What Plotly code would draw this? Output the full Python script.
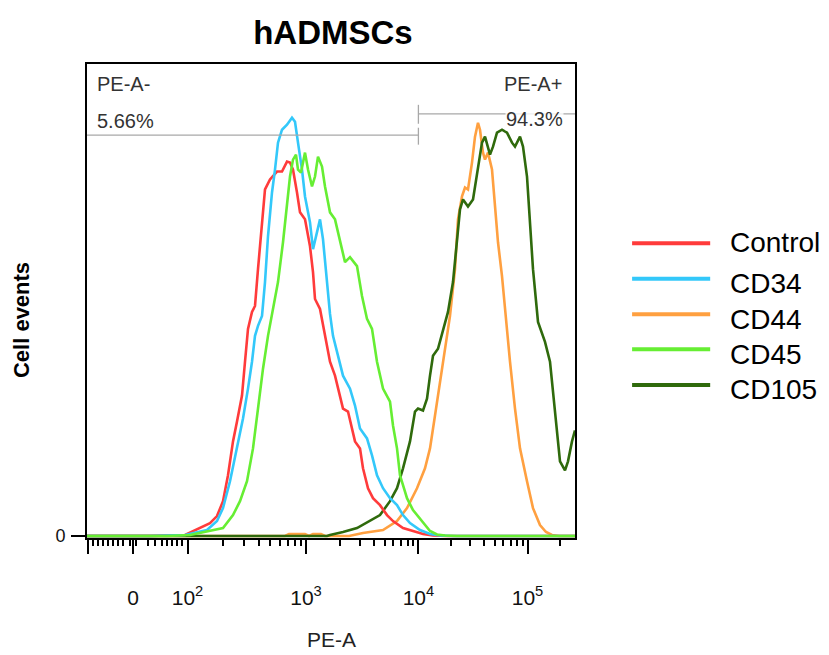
import numpy as np
import plotly.graph_objects as go

# PE-A display channel (0-488) and cell events
ctrl_x = [0, 63, 98, 113, 123, 130, 136, 141, 146, 150, 155, 158, 161, 165, 168, 171, 175, 178, 183, 190, 195,
          200, 203, 206, 210, 213, 218, 223, 226, 228, 233, 236, 240, 243, 248, 253, 256, 261, 265, 268, 273,
          276, 281, 286, 293, 300, 306, 316, 326, 336, 346, 360, 488]
ctrl_y = [0, 0, 1, 8, 13, 20, 35, 61, 95, 115, 141, 175, 208, 225, 231, 268, 311, 348, 358, 366, 366,
          376, 375, 368, 345, 325, 318, 291, 265, 238, 228, 211, 191, 175, 161, 141, 128, 125, 108, 95, 88,
          68, 48, 38, 31, 21, 15, 8, 5, 2, 0.5, 0, 0]

cd34_x = [0, 63, 98, 120, 130, 136, 143, 150, 156, 161, 165, 168, 171, 175, 178, 181, 185, 188, 191, 195, 200,
          205, 208, 211, 215, 218, 223, 226, 230, 233, 236, 240, 243, 246, 251, 256, 263, 268, 273, 280, 285,
          290, 296, 303, 310, 316, 323, 333, 343, 353, 365, 488]
cd34_y = [0, 0, 1, 6, 15, 28, 55, 88, 118, 148, 175, 201, 211, 221, 255, 301, 345, 368, 395, 408, 413,
          420, 416, 395, 368, 341, 315, 288, 305, 318, 298, 255, 223, 201, 181, 161, 148, 131, 108, 98, 81,
          61, 48, 38, 31, 21, 13, 6, 2, 0.5, 0, 0]

cd44_x = [0, 198, 202, 218, 222, 226, 234, 238, 262, 276, 296, 310, 320, 330, 338, 343, 348, 353, 358, 363,
          368, 371, 375, 378, 381, 385, 388, 391, 393, 396, 398, 401, 405, 408, 411, 415, 418, 423, 428, 433,
          440, 446, 453, 459, 465, 472, 488]
cd44_y = [0, 0, 2, 2, 0, 2, 2, 0, 0, 3, 6, 15, 28, 48, 68, 88, 121, 155, 188, 221,
          268, 318, 341, 350, 348, 375, 401, 415, 408, 385, 378, 385, 368, 328, 295, 261, 228, 175, 128, 88,
          55, 28, 11, 4, 1, 0, 0]

cd45_x = [0, 80, 103, 123, 136, 146, 153, 160, 166, 171, 176, 181, 186, 191, 196, 200, 203, 206, 209, 211,
          214, 218, 221, 225, 228, 231, 235, 238, 243, 248, 253, 258, 263, 270, 275, 280, 285, 290, 296, 303,
          306, 310, 313, 320, 326, 336, 343, 350, 358, 370, 488]
cd45_y = [0, 0, 1, 5, 8, 21, 35, 55, 88, 128, 168, 201, 228, 255, 295, 331, 361, 378, 383, 368,
          365, 385, 368, 351, 361, 381, 371, 351, 325, 318, 298, 275, 280, 271, 241, 218, 208, 175, 148, 135,
          111, 88, 61, 38, 26, 13, 5, 1.5, 0.5, 0, 0]

cd105_x = [0, 240, 243, 256, 270, 283, 293, 303, 310, 316, 323, 328, 331, 336, 340, 343, 346, 351, 356, 361,
           366, 370, 373, 376, 381, 386, 391, 395, 398, 403, 406, 410, 415, 420, 425, 428, 433, 436, 440, 443,
           446, 451, 458, 463, 466, 470, 473, 478, 481, 485, 488]
cd105_y = [0, 0, 1, 4, 8, 15, 21, 35, 48, 68, 95, 125, 128, 126, 138, 161, 181, 188, 208, 225,
           255, 295, 328, 338, 331, 338, 371, 395, 401, 383, 391, 405, 408, 405, 395, 391, 401, 391, 361, 318,
           268, 215, 195, 175, 145, 101, 75, 66, 75, 95, 106]

names = ["Control", "CD34", "CD44", "CD45", "CD105"]
colors = ["#ff3b3b", "#33c8fa", "#ffa040", "#66ee33", "#2f6a0c"]
data = {"Control": (ctrl_x, ctrl_y), "CD34": (cd34_x, cd34_y), "CD44": (cd44_x, cd44_y),
        "CD45": (cd45_x, cd45_y), "CD105": (cd105_x, cd105_y)}
draw_order = ["CD44", "CD105", "Control", "CD34", "CD45"]

# biexponential axis: tick labels and their channel positions
tick_text = ["", "0", "10<sup>2</sup>", "10<sup>3</sup>", "10<sup>4</sup>", "10<sup>5</sup>"]
tick_pos = [1, 46, 100.5, 219, 331.4, 440.5]
linear_minor = [6, 11, 16, 21, 26, 31, 36, 43, 49, 61, 68, 75, 80, 85, 90, 95]
decade_span = [118.5, 112.4, 109.1, 109.1]

# gates
gate_split = 331.4
neg_label, neg_pct = "PE-A-", "5.66%"
pos_label, pos_pct = "PE-A+", "94.3%"

minor = list(linear_minor)
for start, span in zip(tick_pos[2:], decade_span):
    for k in range(2, 10):
        v = start + span * np.log10(k)
        if v < 488:
            minor.append(v)

FONT = "Liberation Sans, Arial, sans-serif"
col = dict(zip(names, colors))

fig = go.Figure()
for n in draw_order:
    x, y = data[n]
    fig.add_trace(go.Scatter(x=x, y=y, mode="lines", name=n, showlegend=False,
                             line=dict(color=col[n], width=2.6)))

gray = "#a8a8a8"
shapes = [
    dict(type="line", xref="x", yref="y", x0=0, x1=gate_split, y0=402.5, y1=402.5, line=dict(color=gray, width=1.3)),
    dict(type="line", xref="x", yref="y", x0=gate_split, x1=gate_split, y0=393, y1=410, line=dict(color=gray, width=1.3)),
    dict(type="line", xref="x", yref="y", x0=gate_split, x1=488, y0=424, y1=424, line=dict(color=gray, width=1.3)),
    dict(type="line", xref="x", yref="y", x0=gate_split, x1=gate_split, y0=414, y1=433, line=dict(color=gray, width=1.3)),
]

gate_font = dict(family=FONT, size=20, color="#333333")
annotations = [
    dict(x=8, y=454, xref="x", yref="y", text=neg_label, showarrow=False, xanchor="left", yanchor="middle",
         font=gate_font),
    dict(x=8, y=417, xref="x", yref="y", text=neg_pct, showarrow=False, xanchor="left", yanchor="middle",
         font=gate_font),
    dict(x=477, y=454, xref="x", yref="y", text=pos_label, showarrow=False, xanchor="right", yanchor="middle",
         font=gate_font),
    dict(x=477, y=419, xref="x", yref="y", text=pos_pct, showarrow=False, xanchor="right", yanchor="middle",
         bgcolor="rgba(255,255,255,0.8)", borderpad=0, font=gate_font),
    dict(x=-0.133, y=0.46, xref="paper", yref="paper", text="Cell events", showarrow=False, textangle=-90,
         xanchor="center", yanchor="middle",
         font=dict(family=FONT, size=22, color="black", weight="bold")),
    dict(x=0.5, y=-0.215, xref="paper", yref="paper", text="PE-A", showarrow=False,
         xanchor="center", yanchor="middle", font=dict(family=FONT, size=21, color="#222222")),
]

# legend drawn by hand so the swatch lines match the long strokes of the original
leg_line_y = [0.622, 0.547, 0.472, 0.398, 0.323]
leg_text_y = [0.623, 0.537, 0.460, 0.388, 0.313]
for n, ly, ty in zip(names, leg_line_y, leg_text_y):
    shapes.append(dict(type="line", xref="paper", yref="paper", x0=1.117, x1=1.277, y0=ly, y1=ly,
                       line=dict(color=col[n], width=4)))
    annotations.append(dict(x=1.3135, y=ty, xref="paper", yref="paper", text=n, showarrow=False,
                            xanchor="left", yanchor="middle", font=dict(family=FONT, size=28, color="black")))

# the page body adds an 8px margin, so the figure is 8px smaller on the left/top
fig.update_layout(
    width=821, height=647,
    margin=dict(l=79, r=254, t=56, b=117),
    plot_bgcolor="white", paper_bgcolor="white",
    title=dict(text="hADMSCs", x=0.504, xref="paper", y=1 - 24 / 647, yanchor="middle",
               font=dict(family=FONT, size=33, color="black", weight="bold")),
    shapes=shapes, annotations=annotations,
    showlegend=False,
)
fig.update_xaxes(
    range=[0, 488], showgrid=False, zeroline=False,
    showline=True, linecolor="black", linewidth=2, mirror=True,
    ticks="outside", ticklen=14, tickwidth=2, tickcolor="black",
    tickmode="array", tickvals=tick_pos, ticktext=tick_text, ticklabelstandoff=26,
    tickfont=dict(family=FONT, size=21, color="#111111"),
    minor=dict(tickmode="array", tickvals=minor, ticks="outside", ticklen=6, tickwidth=1.5, tickcolor="black"),
)
fig.update_yaxes(
    range=[-2, 474], showgrid=False, zeroline=False,
    showline=True, linecolor="black", linewidth=2, mirror=True,
    ticks="outside", ticklen=14, tickwidth=1.5, tickcolor="black",
    tickmode="array", tickvals=[0], ticktext=["0"], ticklabelstandoff=2,
    tickfont=dict(family=FONT, size=18, color="#111111"),
)

fig.write_html("out.html")
